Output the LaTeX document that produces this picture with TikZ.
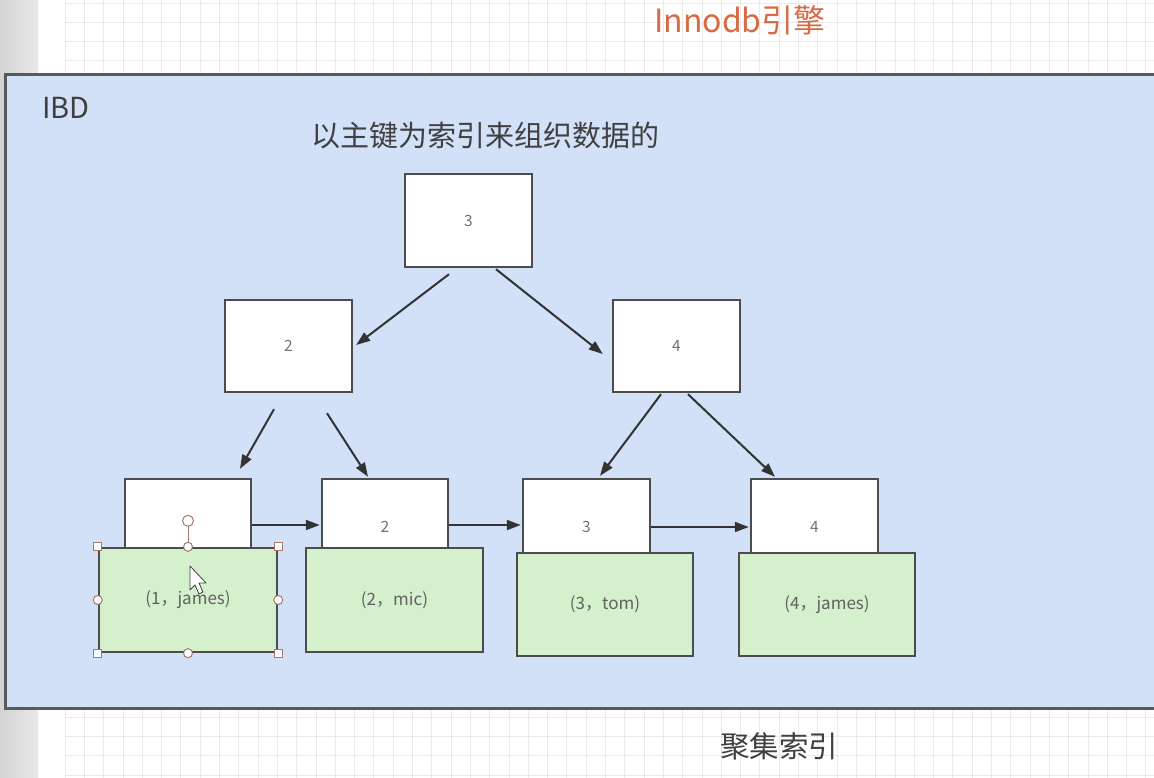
\documentclass[tikz,border=0pt]{standalone}
\usepackage{fontspec}
\setmainfont{Noto Sans CJK SC}
\usetikzlibrary{arrows.meta,calc}
\definecolor{bgblue}{HTML}{D2E0F8}
\definecolor{leafgreen}{HTML}{D5F0CD}
\definecolor{edge}{HTML}{4C4C4C}
\definecolor{titlered}{HTML}{D66B45}
\definecolor{gridc}{HTML}{EAEAEA}
\definecolor{handlec}{HTML}{A87868}
\tikzset{
  wbox/.style={draw=edge, line width=2.4pt, fill=white, inner sep=0pt, text=black!55, font=\fontsize{15.5}{17}\selectfont},
  gbox/.style={draw=edge, line width=2.4pt, fill=leafgreen, inner sep=0pt, text=black!62, font=\fontsize{17}{19}\selectfont},
  arr/.style={draw=black!80, line width=2pt, -{Triangle[length=14pt,width=10pt]}},
  bigtxt/.style={text=black!75, font=\fontsize{29}{33}\selectfont, inner sep=0pt},
  sqhandle/.style={draw=handlec, fill=white, line width=1pt, minimum size=8pt, inner sep=0pt, rectangle},
  rdhandle/.style={draw=handlec, fill=white, line width=1pt, minimum size=9pt, inner sep=0pt, circle},
}
\begin{document}
\begin{tikzpicture}[x=1pt,y=-1pt]
\useasboundingbox (0,0) rectangle (1154,778);
% page background
\fill[white] (0,0) rectangle (1154,778);
\shade[left color=black!17, right color=black!9] (0,0) rectangle (38,778);
\foreach \x in {65,84.3,...,1154} \draw[gridc, line width=0.8pt] (\x,0) -- (\x,778);
\foreach \y in {3,22.3,...,778} \draw[gridc, line width=0.8pt] (65,\y) -- (1154,\y);
% title
\node[text=titlered, font=\fontsize{32}{35}\selectfont, inner sep=0pt] (title) at (740,20) {Innodb引擎};
% container
\draw[fill=bgblue, draw=black!65, line width=3pt] (5,75) rectangle (1160,708);
\node[bigtxt, anchor=west] (ibd) at (42,108) {IBD};
\node[bigtxt] (sub) at (485,136) {以主键为索引来组织数据的};
\node[bigtxt, font=\fontsize{29.5}{33}\selectfont] (cap) at (779,746) {聚集索引};
% tree
\node[wbox, minimum width=127pt, minimum height=93pt] (r) at (468.5,220.5) {3};
\node[wbox, minimum width=127pt, minimum height=92pt] (n2) at (288.5,346) {2};
\node[wbox, minimum width=127pt, minimum height=92pt] (n4) at (676.5,346) {4};
\node[wbox, minimum width=126pt, minimum height=96pt] (l1) at (188,527) {};
\node[wbox, minimum width=126pt, minimum height=96pt] (l2) at (385,527) {2};
\node[wbox, minimum width=127pt, minimum height=96pt] (l3) at (586.5,527) {3};
\node[wbox, minimum width=127pt, minimum height=96pt] (l4) at (814.5,527) {4};
\node[gbox, minimum width=178pt, minimum height=104pt] (g1) at (188,600) {(1，james)};
\node[gbox, minimum width=177pt, minimum height=104pt] (g2) at (394.5,600) {(2，mic)};
\node[gbox, minimum width=176pt, minimum height=103pt] (g3) at (605,604.5) {(3，tom)};
\node[gbox, minimum width=176pt, minimum height=103pt] (g4) at (827,604.5) {(4，james)};
% tree arrows
\draw[arr] ($(r.south)+(-19.5,6)$) -- ($(n2.east)+(3,-1)$);
\draw[arr] ($(r.south)+(27.5,1)$) -- ($(n4.west)+(-9,8)$);
\draw[arr] ($(n2.south)+(-14.5,16)$) -- ($(l1.north)+(52,-9)$);
\draw[arr] ($(n2.south)+(38.5,20)$) -- ($(l2.north)+(-17,-1)$);
\draw[arr] ($(n4.south)+(-15.5,1)$) -- ($(l3.north)+(13.5,-2)$);
\draw[arr] ($(n4.south)+(11.5,1)$) -- ($(l4.north)+(-39.5,-1)$);
% leaf links
\draw[arr] ($(l1.east)+(0,-2)$) -- ($(l2.west)+(-1,-2)$);
\draw[arr] ($(l2.east)+(0,-2)$) -- ($(l3.west)+(-1,-2)$);
\draw[arr] (l3.east) -- ($(l4.west)+(-1,0)$);
% selection handles on first data box
\draw[handlec, line width=1pt] (g1.north) -- ($(g1.north)+(0,-22)$);
\node[rdhandle, minimum size=11pt] (rot) at ($(g1.north)+(0,-26)$) {};
\node[sqhandle] (h1) at (g1.north west) {};
\node[sqhandle] (h2) at (g1.north east) {};
\node[sqhandle] (h3) at (g1.south west) {};
\node[sqhandle] (h4) at (g1.south east) {};
\node[rdhandle] (h5) at (g1.north) {};
\node[rdhandle] (h6) at (g1.south) {};
\node[rdhandle] (h7) at (g1.west) {};
\node[rdhandle] (h8) at (g1.east) {};
% mouse pointer
\draw[fill=white, draw=black!75, line width=0.8pt, line join=round]
  (190,566) -- (190,590) -- (195,585) -- (199,594) -- (203,592) -- (199,583) -- (206,583) -- cycle;
\end{tikzpicture}
\end{document}
